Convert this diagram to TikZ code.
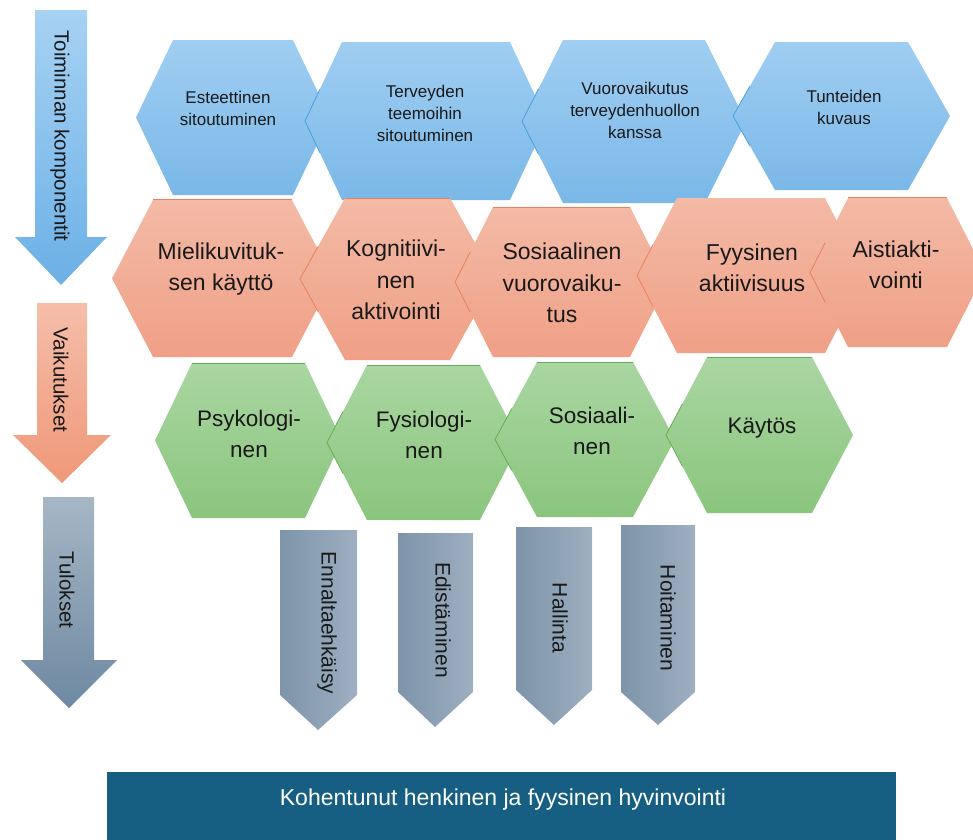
\documentclass[tikz,border=0pt]{standalone}
\usepackage{fontspec}
\setmainfont{Liberation Sans}
\usetikzlibrary{calc}
\definecolor{blueT}{RGB}{160,206,242}
\definecolor{blueB}{RGB}{122,184,232}
\definecolor{blueL}{RGB}{70,160,220}
\definecolor{salT}{RGB}{243,186,166}
\definecolor{salB}{RGB}{240,160,134}
\definecolor{salL}{RGB}{233,130,90}
\definecolor{grnT}{RGB}{170,214,162}
\definecolor{grnB}{RGB}{138,197,125}
\definecolor{grnL}{RGB}{100,175,85}
\definecolor{arBT}{RGB}{166,210,243}
\definecolor{arBB}{RGB}{108,176,230}
\definecolor{arPT}{RGB}{245,190,170}
\definecolor{arPB}{RGB}{239,152,120}
\definecolor{arGT}{RGB}{166,182,197}
\definecolor{arGB}{RGB}{110,137,162}
\definecolor{grL}{RGB}{125,148,170}
\definecolor{grR}{RGB}{158,175,192}
\definecolor{barC}{RGB}{22,94,130}
\definecolor{txt}{RGB}{25,25,25}
\newcommand{\hexa}[7]{%
  \pgfmathsetmacro\hyc{(#4+#5)/2}%
  \path[#1] (#2,\hyc) -- (#2+#6,#4) -- (#3-#6,#4) -- (#3,\hyc) -- (#3-#6,#5) -- (#2+#6,#5) -- cycle;%
  \ifx&#7&\else
  \draw[#7,line width=0.8pt] ($(#2,\hyc)!0.4!(#2+#6,#4)$) -- (#2,\hyc) -- ($(#2,\hyc)!0.4!(#2+#6,#5)$);%
  \fi
}
\newcommand{\topline}[5]{\draw[#1,line width=0.9pt] (#2+#4,#3) -- (#5-#4,#3);}
\tikzset{
  bluehex/.style={top color=blueT,bottom color=blueB},
  salhex/.style={top color=salT,bottom color=salB},
  grnhex/.style={top color=grnT,bottom color=grnB},
  smalltxt/.style={text=txt,align=center,font=\fontsize{17}{22}\selectfont},
  bigtxt/.style={text=txt,align=center,font=\fontsize{23}{31.5}\selectfont},
  midtxt/.style={text=txt,align=center,font=\fontsize{22.5}{31}\selectfont},
  arrtxt/.style={text=txt,rotate=-90,font=\fontsize{20.5}{24}\selectfont},
  outtxt/.style={text=txt,rotate=-90,font=\fontsize{21}{24}\selectfont},
  outarrow/.style={left color=grL,right color=grR},
}
\begin{document}
\begin{tikzpicture}[x=1pt,y=-1pt]
\useasboundingbox (0,0) rectangle (973,839);
\clip (0,0) rectangle (973,839);
% left arrows
\path[top color=arBT,bottom color=arBB] (35,10) -- (87,10) -- (87,237) -- (107,237) -- (61,285) -- (15,237) -- (35,237) -- cycle;
\node[arrtxt] (lab1) at (60,136) {Toiminnan komponentit};
\path[top color=arPT,bottom color=arPB] (37,303) -- (87,303) -- (87,435) -- (111,435) -- (62,483) -- (13,435) -- (37,435) -- cycle;
\node[arrtxt] (lab2) at (61,380) {Vaikutukset};
\path[top color=arGT,bottom color=arGB] (43,497) -- (94,497) -- (94,660) -- (117,660) -- (69,708) -- (21,660) -- (43,660) -- cycle;
\node[arrtxt] (lab3) at (67,590) {Tulokset};
% blue row
\hexa{bluehex}{136}{330}{40}{195}{37}{}
\hexa{bluehex}{305}{547}{42}{200}{37}{blueL}
\hexa{bluehex}{522}{746}{40}{203}{41}{blueL}
\hexa{bluehex}{733}{950}{42}{190}{42}{blueL}
\node[smalltxt] (b1) at (228,108) {Esteettinen\\sitoutuminen};
\node[smalltxt] (b2) at (425,113) {Terveyden\\teemoihin\\sitoutuminen};
\node[smalltxt] (b3) at (635,110) {Vuorovaikutus\\terveydenhuollon\\kanssa};
\node[smalltxt] (b4) at (844,107) {Tunteiden\\kuvaus};
% salmon row
\hexa{salhex}{112}{333}{200}{357}{41}{}
\topline{salL}{112}{199}{41}{333}
\hexa{salhex}{300}{495}{198}{360}{45}{salL}
\topline{salL}{300}{198}{45}{495}
\hexa{salhex}{455}{668}{207}{357}{38}{salL}
\topline{salL}{455}{207}{38}{668}
\hexa{salhex}{637}{865}{198}{353}{40}{salL}
\hexa{salhex}{810}{985}{198}{347}{38}{salL}
\topline{salL}{810}{197}{38}{985}
\node[bigtxt] (m1) at (221,269) {Mielikuvituk-\\sen käyttö};
\node[bigtxt] (m2) at (396,280) {Kognitiivi-\\nen\\aktivointi};
\node[bigtxt] (m3) at (562,283) {Sosiaalinen\\vuorovaiku-\\tus};
\node[bigtxt] (m4) at (752,268) {Fyysinen\\aktiivisuus};
\node[bigtxt] (m5) at (896,265) {Aistiakti-\\vointi};
% green row
\hexa{grnhex}{155}{342}{363}{518}{37}{}
\topline{grnL}{155}{363}{37}{342}
\hexa{grnhex}{327}{520}{365}{520}{40}{grnL}
\topline{grnL}{327}{365}{40}{520}
\hexa{grnhex}{495}{675}{362}{517}{42}{grnL}
\topline{grnL}{495}{362}{42}{675}
\hexa{grnhex}{666}{853}{357}{513}{41}{grnL}
\topline{grnL}{666}{357}{41}{853}
\node[midtxt] (g1) at (249,434) {Psykologi-\\nen};
\node[midtxt] (g2) at (424,435) {Fysiologi-\\nen};
\node[midtxt] (g3) at (592,431) {Sosiaali-\\nen};
\node[midtxt] (g4) at (762,428) {Käytös};
% outcome arrows
\path[outarrow] (280,530) -- (357,530) -- (357,695) -- (318,730) -- (280,695) -- cycle;
\node[outtxt] (o1) at (327,623) {Ennaltaehkäisy};
\path[outarrow] (398,533) -- (473,533) -- (473,692) -- (435,727) -- (398,692) -- cycle;
\node[outtxt] (o2) at (443,620) {Edistäminen};
\path[outarrow] (516,527) -- (592,527) -- (592,690) -- (554,725) -- (516,690) -- cycle;
\node[outtxt] (o3) at (560,618) {Hallinta};
\path[outarrow] (621,525) -- (695,525) -- (695,692) -- (658,725) -- (621,692) -- cycle;
\node[outtxt] (o4) at (668,618) {Hoitaminen};
% bottom bar
\path[fill=barC] (107,772) rectangle (896,845);
\node[text=white,font=\fontsize{23}{28}\selectfont] (bar) at (503,800) {Kohentunut henkinen ja fyysinen hyvinvointi};
\end{tikzpicture}
\end{document}
